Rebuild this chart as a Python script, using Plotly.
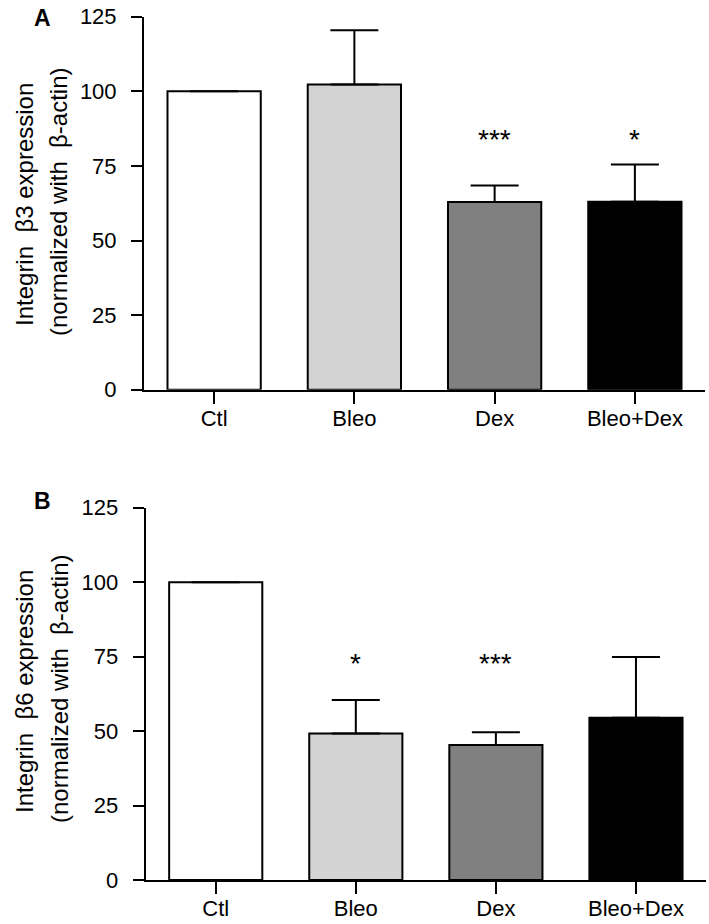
import plotly.graph_objects as go

categories = ["Ctl", "Bleo", "Dex", "Bleo+Dex"]
a_values = [100, 102.3, 62.9, 63.0]
a_errors = [None, 18.2, 5.5, 12.5]
a_stars = ["", "", "***", "*"]
b_values = [100, 49.2, 45.3, 54.5]
b_errors = [None, 11.2, 4.3, 20.4]
b_stars = ["", "*", "***", ""]
bar_colors = ["#ffffff", "#d3d3d3", "#808080", "#000000"]
y_ticks = [0, 25, 50, 75, 100, 125]

FONT = "Liberation Sans, Arial, Helvetica, sans-serif"
W, H = 709, 924

fig = go.Figure()
for vals, errs, xa, ya in [(a_values, a_errors, "x", "y"), (b_values, b_errors, "x2", "y2")]:
    fig.add_trace(go.Bar(
        x=categories, y=vals, xaxis=xa, yaxis=ya,
        marker=dict(color=bar_colors, line=dict(color="black", width=2)),
        error_y=dict(type="data", array=errs, arrayminus=[0] * len(errs), symmetric=False,
                     color="black", thickness=2, width=24),
        width=0.665, showlegend=False, hoverinfo="skip",
    ))

def px_x(p):
    return p / W

def px_y(p):
    return 1 - p / H

axis_common = dict(showline=True, linecolor="black", linewidth=2, ticks="outside",
                   tickcolor="black", tickwidth=2, showgrid=False, zeroline=False,
                   automargin=False,
                   tickfont=dict(family=FONT, size=22, color="black"))

layout = dict(
    width=W, height=H, margin=dict(l=0, r=0, t=0, b=0, pad=0),
    paper_bgcolor="white", plot_bgcolor="white",
    font=dict(family=FONT, color="black"),
    xaxis=dict(domain=[px_x(144), px_x(705)], anchor="y", range=[-0.5, 3.5], ticklen=12,
               ticklabelstandoff=-4, type="category", **axis_common),
    yaxis=dict(domain=[px_y(389.7), px_y(16.7)], anchor="x", range=[0, 125], tickvals=y_ticks,
               ticklen=11, ticklabelstandoff=10, **axis_common),
    xaxis2=dict(domain=[px_x(145.7), px_x(706)], anchor="y2", range=[-0.5, 3.5], ticklen=12,
                ticklabelstandoff=-4, type="category", **axis_common),
    yaxis2=dict(domain=[px_y(880), px_y(507.7)], anchor="x2", range=[0, 125], tickvals=y_ticks,
                ticklen=11, ticklabelstandoff=10, **axis_common),
)
fig.update_layout(**layout)

ann = []
for stars, xa, ya, ylev in [(a_stars, "x", "y", 83.7), (b_stars, "x2", "y2", 72.8)]:
    for c, s in zip(categories, stars):
        if s:
            ann.append(dict(x=c, y=ylev, xref=xa, yref=ya, text=s, showarrow=False,
                            xanchor="center", yanchor="middle",
                            font=dict(family=FONT, size=28, color="black")))

# panel letters
for letter, cy in [("A", 18), ("B", 501)]:
    ann.append(dict(x=px_x(42), y=px_y(cy), xref="paper", yref="paper",
                    text="<b>%s</b>" % letter, showarrow=False,
                    xanchor="center", yanchor="middle",
                    font=dict(family=FONT, size=23, color="black")))

# y-axis titles
for line1, cy in [("Integrin  β3 expression", 205), ("Integrin  β6 expression", 692)]:
    ann.append(dict(x=px_x(24), y=px_y(cy), xref="paper", yref="paper", text=line1,
                    textangle=-90, showarrow=False, xanchor="center", yanchor="middle",
                    font=dict(family=FONT, size=24, color="black")))
    ann.append(dict(x=px_x(59), y=px_y(cy - 3), xref="paper", yref="paper",
                    text="(normalized with  β-actin)", textangle=-90, showarrow=False,
                    xanchor="center", yanchor="middle",
                    font=dict(family=FONT, size=24, color="black")))

fig.update_layout(annotations=ann)
fig.write_html("out.html", config={"displayModeBar": False},
               post_script="document.body.style.margin='0';")
